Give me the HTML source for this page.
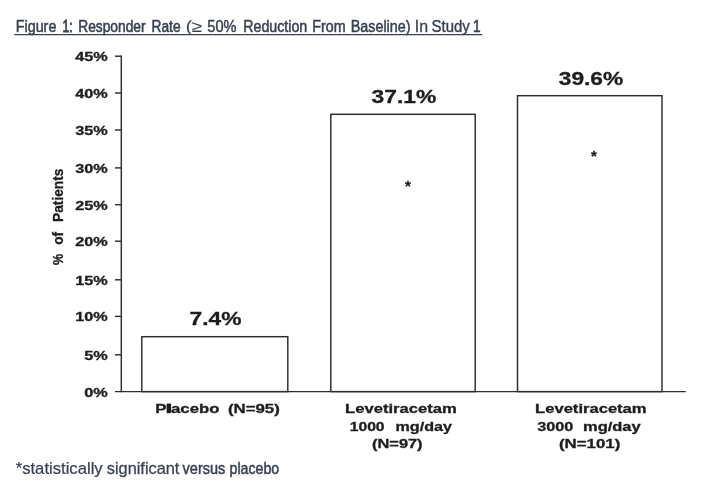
<!DOCTYPE html>
<html>
<head>
<meta charset="utf-8">
<title>Figure 1: Responder Rate</title>
<style>
html,body{margin:0;padding:0;background:#fff;}
body{width:708px;height:493px;overflow:hidden;position:relative;}
svg{position:absolute;left:0;top:0;display:block;}
.c{font-family:"Liberation Sans",sans-serif;fill:#394154;stroke:#394154;}
.b{font-family:"Liberation Sans",sans-serif;font-weight:bold;fill:#1e1e1e;stroke:#1e1e1e;stroke-width:0.3px;}
</style>
</head>
<body>
<svg width="708" height="493" viewBox="0 0 708 493">
<rect width="708" height="493" fill="#fff"/>
<defs><filter id="soft" x="0" y="0" width="708" height="493" filterUnits="userSpaceOnUse"><feGaussianBlur stdDeviation="0.45"/></filter></defs>
<g filter="url(#soft)">
<!-- title -->
<text class="c" x="15.7" y="31.6" font-size="16.2" stroke-width="0.49" textLength="40.7" lengthAdjust="spacingAndGlyphs">Figure</text>
<text class="c" x="62.4" y="31.6" font-size="16.2" stroke-width="0.8" textLength="10.2" lengthAdjust="spacingAndGlyphs">1:</text>
<text class="c" x="78.2" y="31.6" font-size="16.2" stroke-width="0.57" textLength="67.4" lengthAdjust="spacingAndGlyphs">Responder</text>
<text class="c" x="151.5" y="31.6" font-size="16.2" stroke-width="0.57" textLength="29.1" lengthAdjust="spacingAndGlyphs">Rate</text>
<text class="c" x="185.7" y="31.6" font-size="16.2" stroke-width="0.1" textLength="16.6" lengthAdjust="spacingAndGlyphs">(≥</text>
<text class="c" x="207.3" y="31.6" font-size="16.2" stroke-width="0.47" textLength="29.1" lengthAdjust="spacingAndGlyphs">50%</text>
<text class="c" x="243.2" y="31.6" font-size="16.2" stroke-width="0.51" textLength="64.1" lengthAdjust="spacingAndGlyphs">Reduction</text>
<text class="c" x="312.3" y="31.6" font-size="16.2" stroke-width="0.5" textLength="33.3" lengthAdjust="spacingAndGlyphs">From</text>
<text class="c" x="350.7" y="31.6" font-size="16.2" stroke-width="0.49" textLength="59.9" lengthAdjust="spacingAndGlyphs">Baseline)</text>
<text class="c" x="414.8" y="31.6" font-size="16.2" stroke-width="0.3" textLength="13.3" lengthAdjust="spacingAndGlyphs">In</text>
<text class="c" x="431.5" y="31.6" font-size="16.2" stroke-width="0.41" textLength="38.3" lengthAdjust="spacingAndGlyphs">Study</text>
<text class="c" x="473.0" y="31.6" font-size="16.2" stroke-width="0.59" textLength="7.6" lengthAdjust="spacingAndGlyphs">1</text>
<line x1="14.3" y1="34.6" x2="482.3" y2="34.6" stroke="#394154" stroke-width="1.4"/>
<!-- axes and bars -->
<g stroke="#2e2e2e" stroke-width="1.45" fill="none">
<line x1="121.3" y1="55.5" x2="121.3" y2="392.3"/>
<line x1="115" y1="391.6" x2="685.8" y2="391.6"/>
<line x1="115" y1="56.2" x2="121.3" y2="56.2"/>
<line x1="115" y1="93.0" x2="121.3" y2="93.0"/>
<line x1="115" y1="130.0" x2="121.3" y2="130.0"/>
<line x1="115" y1="167.9" x2="121.3" y2="167.9"/>
<line x1="115" y1="204.7" x2="121.3" y2="204.7"/>
<line x1="115" y1="241.2" x2="121.3" y2="241.2"/>
<line x1="115" y1="279.8" x2="121.3" y2="279.8"/>
<line x1="115" y1="316.4" x2="121.3" y2="316.4"/>
<line x1="115" y1="354.8" x2="121.3" y2="354.8"/>
<rect x="141.8" y="336.7" width="146" height="54.9"/>
<rect x="330.8" y="114.3" width="144.4" height="277.3"/>
<rect x="517.5" y="95.7" width="144.5" height="295.9"/>
</g>
<!-- y tick labels -->
<text class="b" x="75.3" y="61.1" font-size="12.6" textLength="32.5" lengthAdjust="spacingAndGlyphs">45%</text>
<text class="b" x="75.3" y="97.9" font-size="12.6" textLength="32.5" lengthAdjust="spacingAndGlyphs">40%</text>
<text class="b" x="75.3" y="134.9" font-size="12.6" textLength="32.5" lengthAdjust="spacingAndGlyphs">35%</text>
<text class="b" x="75.3" y="172.8" font-size="12.6" textLength="32.5" lengthAdjust="spacingAndGlyphs">30%</text>
<text class="b" x="75.3" y="209.6" font-size="12.6" textLength="32.5" lengthAdjust="spacingAndGlyphs">25%</text>
<text class="b" x="75.3" y="246.1" font-size="12.6" textLength="32.5" lengthAdjust="spacingAndGlyphs">20%</text>
<text class="b" x="75.3" y="284.7" font-size="12.6" textLength="32.5" lengthAdjust="spacingAndGlyphs">15%</text>
<text class="b" x="75.3" y="321.3" font-size="12.6" textLength="32.5" lengthAdjust="spacingAndGlyphs">10%</text>
<text class="b" x="84.3" y="359.7" font-size="12.6" textLength="23.5" lengthAdjust="spacingAndGlyphs">5%</text>
<text class="b" x="84.3" y="396.5" font-size="12.6" textLength="23.5" lengthAdjust="spacingAndGlyphs">0%</text>
<g transform="translate(63.4,265) rotate(-90)">
<text class="b" x="0.0" y="0" font-size="13.8" textLength="11.2" lengthAdjust="spacingAndGlyphs">%</text>
<text class="b" x="20.2" y="0" font-size="13.8" textLength="12.9" lengthAdjust="spacingAndGlyphs">of</text>
<text class="b" x="43.0" y="0" font-size="13.8" textLength="53.5" lengthAdjust="spacingAndGlyphs">Patients</text>
</g>
<!-- values -->
<text class="b" x="189.5" y="324.6" font-size="18.2" textLength="52.0" lengthAdjust="spacingAndGlyphs">7.4%</text>
<text class="b" x="371.5" y="103.4" font-size="18.2" textLength="64.8" lengthAdjust="spacingAndGlyphs">37.1%</text>
<text class="b" x="558.8" y="84.7" font-size="18.2" textLength="64.4" lengthAdjust="spacingAndGlyphs">39.6%</text>
<text class="b" x="408" y="190.6" font-size="15" text-anchor="middle">*</text>
<text class="b" x="593.8" y="161.0" font-size="15" text-anchor="middle">*</text>
<!-- x labels -->
<text class="b" x="155.2" y="412.6" font-size="12.6" textLength="64.3" lengthAdjust="spacingAndGlyphs">Placebo</text>
<text class="b" x="227.9" y="412.6" font-size="12.6" textLength="51.9" lengthAdjust="spacingAndGlyphs">(N=95)</text>
<rect x="166.6" y="403.7" width="4.5" height="9.2" fill="#1e1e1e"/>
<text class="b" x="345.0" y="413" font-size="12.6" textLength="111.8" lengthAdjust="spacingAndGlyphs">Levetiracetam</text>
<text class="b" x="349.7" y="430.7" font-size="12.6" textLength="34.9" lengthAdjust="spacingAndGlyphs">1000</text>
<text class="b" x="395.5" y="430.7" font-size="12.6" textLength="56.5" lengthAdjust="spacingAndGlyphs">mg/day</text>
<text class="b" x="372.0" y="448" font-size="12.6" textLength="50.6" lengthAdjust="spacingAndGlyphs">(N=97)</text>
<text class="b" x="535.1" y="413" font-size="12.6" textLength="111.5" lengthAdjust="spacingAndGlyphs">Levetiracetam</text>
<text class="b" x="537.2" y="430.7" font-size="12.6" textLength="36.2" lengthAdjust="spacingAndGlyphs">3000</text>
<text class="b" x="583.0" y="430.7" font-size="12.6" textLength="57.6" lengthAdjust="spacingAndGlyphs">mg/day</text>
<text class="b" x="559.0" y="448" font-size="12.6" textLength="61.3" lengthAdjust="spacingAndGlyphs">(N=101)</text>
<!-- footnote -->
<text class="c" x="15.7" y="474.4" font-size="16.2" stroke-width="0.22" textLength="87.0" lengthAdjust="spacingAndGlyphs">*statistically</text>
<text class="c" x="106.8" y="474.4" font-size="16.2" stroke-width="0.26" textLength="72.6" lengthAdjust="spacingAndGlyphs">significant</text>
<text class="c" x="182.6" y="474.4" font-size="16.2" stroke-width="0.47" textLength="42.8" lengthAdjust="spacingAndGlyphs">versus</text>
<text class="c" x="229.6" y="474.4" font-size="16.2" stroke-width="0.52" textLength="49.6" lengthAdjust="spacingAndGlyphs">placebo</text>
</g>
</svg>
</body>
</html>
